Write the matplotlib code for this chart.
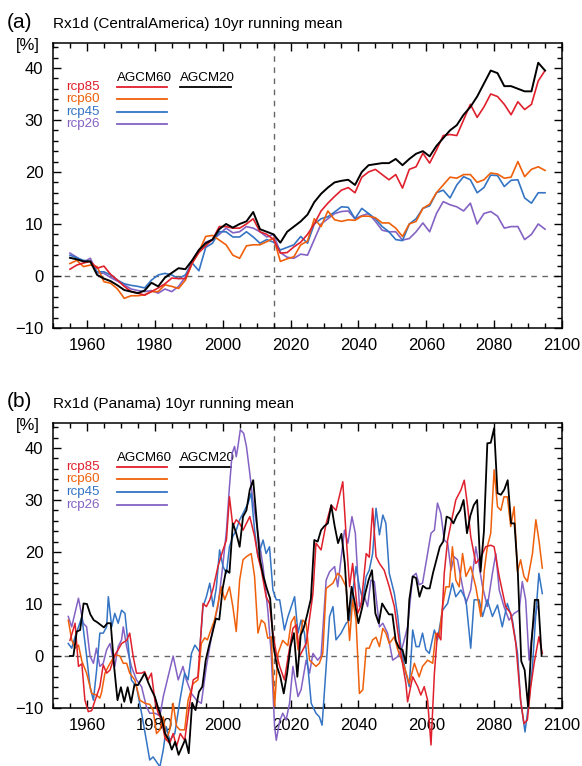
import numpy as np
import matplotlib
matplotlib.use('Agg')
import matplotlib.pyplot as plt
from matplotlib.ticker import MultipleLocator

plt.rcParams['font.family'] = ['Liberation Sans', 'DejaVu Sans']

# colours of the four scenarios
c85 = '#e0202c'
c60 = '#f0600a'
c45 = '#3474c4'
c26 = '#8462c4'

# ---- (a) Central America, every 2nd year ----
yrs_a = list(range(1955, 2096, 2))

a_agcm20 = [3.5, 3.2, 2.8,
            2.8, 0.2, -0.5, -1.0, -1.8,
            -2.7, -3.0, -3.3, -2.8, -1.3,
            -2.0, -0.3, 0.6, 1.5, 1.3,
            3.0, 5.0, 6.3, 7.0, 9.0,
            10.0, 9.3, 10.0, 10.5, 12.3,
            9.0, 8.5, 8.0, 6.4, 8.5,
            9.5, 10.5, 11.8, 14.2, 15.8,
            17.0, 18.0, 18.3, 18.5, 17.5,
            20.0, 21.3, 21.5, 21.7, 21.7,
            22.5, 21.3, 22.5, 23.5, 24.0,
            23.0, 25.0, 26.5, 28.0, 29.0,
            31.0, 32.5, 34.5, 37.0, 39.5,
            39.0, 36.5, 36.5, 36.0, 35.5,
            35.5, 41.0, 39.5]

a_rcp85 = [1.3, 2.1, 2.5,
           2.8, 1.5, 1.9, 0.3, -0.8,
           -2.0, -3.0, -3.3, -3.7, -3.0,
           -2.3, -1.5, -0.4, -0.5, -0.5,
           2.5, 4.5, 5.8, 7.0, 9.5,
           9.5, 9.2, 9.2, 10.0, 11.0,
           8.5, 8.0, 7.0, 4.4, 4.5,
           5.6, 6.5, 8.0, 10.0, 12.5,
           14.0, 15.3, 16.5, 17.0, 16.0,
           19.0, 20.0, 20.5, 19.5, 18.5,
           19.5, 16.9, 20.5, 21.0, 23.6,
           21.7, 24.2, 27.0, 27.2, 27.0,
           30.0, 33.0, 30.5, 32.5, 35.0,
           34.5, 33.0, 31.0, 33.5, 32.0,
           33.0, 37.5, 39.5]

a_rcp60 = [2.4, 3.0, 1.8,
           2.1, 1.8, -1.1, -1.4, -2.5,
           -4.3, -3.8, -3.8, -3.6, -3.0,
           -3.0, -1.7, -2.0, -2.4, -0.8,
           2.4, 4.7, 7.6, 7.8, 6.9,
           6.0, 4.0, 3.4, 5.8, 6.0,
           6.0, 6.6, 7.3, 2.8, 3.3,
           3.7, 6.0, 6.7, 11.0, 9.5,
           12.5, 10.8, 10.5, 10.8, 10.7,
           11.5, 11.5, 11.2, 10.2, 10.2,
           9.2, 7.6, 10.0, 10.5, 13.0,
           13.8, 16.0, 17.5, 19.0, 18.8,
           19.5, 19.5, 18.0, 18.5, 19.8,
           19.6, 18.8, 19.0, 22.0, 19.1,
           20.5, 21.0, 20.3]

a_rcp45 = [4.0, 3.5, 3.0,
           2.8, 0.8, 0.8, 0.2, -0.8,
           -1.5, -1.8, -2.0, -2.3, -0.8,
           0.2, 0.5, 0.2, -0.5, 0.2,
           2.5, 1.0, 5.5, 6.3, 8.5,
           8.5, 7.5, 7.5, 8.5, 7.5,
           6.3, 7.0, 6.5, 5.0, 5.5,
           6.0, 7.6, 6.3, 10.0, 11.0,
           11.4, 12.3, 13.3, 13.2, 11.0,
           13.0, 12.0, 11.0, 9.5, 8.5,
           7.0, 6.8, 10.0, 11.0, 13.0,
           13.5, 16.0, 16.5, 15.0, 17.5,
           19.1, 18.5, 16.0, 17.0, 19.4,
           19.3, 17.2, 18.4, 18.5, 15.0,
           14.0, 16.0, 16.0]

a_rcp26 = [4.4, 3.6, 2.7,
           3.4, 0.6, 0.5, -0.3, -1.0,
           -1.7, -2.5, -2.8, -3.0, -2.8,
           -3.3, -2.5, -3.0, -2.0, -0.2,
           3.0, 5.0, 6.5, 7.0, 8.0,
           9.2, 8.3, 8.5, 9.5, 9.2,
           8.5, 7.5, 8.0, 4.5, 3.6,
           3.4, 4.2, 4.0, 7.0, 10.0,
           11.0, 12.0, 12.4, 12.5, 11.0,
           11.6, 12.0, 10.5, 8.8, 8.5,
           8.5, 6.9, 7.2, 8.5, 10.2,
           8.5, 12.0, 14.3, 13.7, 13.3,
           12.5, 14.0, 10.0, 12.0, 12.4,
           11.5, 9.2, 9.5, 9.5, 7.0,
           8.0, 10.0, 9.0]

# ---- (b) Panama, read at the line's vertices ----
b_agcm20_yr = list(range(1955, 2095))
b_agcm20 = [0.0, 0.0, 4.7, 5.0, 10.1,
            10.0, 8.0, 6.9, 6.5, 6.0, 5.5, 6.3, 6.3, -2.0, -8.5,
            -6.0, -8.8, -6.0, -9.0, -5.5, -5.6, -4.5, -3.3, -5.0, -6.5,
            -7.8, -10.0, -12.0, -14.9, -16.0, -18.0, -16.5, -19.0, -17.5, -16.0,
            -18.7, -9.0, -10.4, -6.9, -5.9, -0.8, 2.0, 4.5, 7.2, 7.0,
            13.0, 16.5, 16.0, 25.5, 23.6, 21.0, 26.8, 28.0, 32.0, 33.8,
            26.2, 18.5, 15.3, 13.0, 11.0, 1.8, -2.0, -4.0, -7.2, -3.3,
            1.8, 4.4, -4.0, 4.0, 5.6, 8.2, 11.0, 22.3, 22.0, 24.2,
            25.0, 25.5, 29.0, 25.0, 21.7, 23.5, 17.8, 6.9, 13.3, 10.0,
            6.3, 9.0, 12.0, 14.6, 16.5, 8.2, 6.3, 10.1, 9.0, 8.0,
            8.0, 3.0, 1.5, 1.2, -1.4, 10.8, 15.3, 15.0, 11.4, 13.5,
            13.0, 13.0, 16.0, 18.5, 21.0, 22.0, 26.8, 26.5, 25.5, 27.0,
            28.0, 30.0, 23.6, 27.0, 29.0, 30.0, 16.2, 24.0, 40.9, 41.0,
            43.8, 31.3, 31.0, 32.0, 33.8, 25.5, 25.5, 15.9, -1.0, -2.7,
            -9.7, 2.4, 10.8, 10.8, 0.0]

b_rcp85_yr = [1955, 1956.5, 1957.5, 1958.5, 1959.4, 1960.4, 1961.4, 1962.4, 1963.8, 1964.8,
              1965.8, 1966.8, 1968.2, 1969.2, 1970.2, 1971.7, 1972.6, 1973.6, 1974.6, 1976.1,
              1977, 1978, 1979, 1980, 1981, 1982, 1983, 1984.4, 1985.4, 1986.4,
              1987.5, 1988.8, 1990.3, 1991.3, 1992.7, 1994.2, 1995.2, 1996.2, 1997.2, 1998.6,
              2000.1, 2001.1, 2002, 2003, 2004, 2005, 2006, 2007, 2008, 2009.4,
              2010.4, 2011.4, 2012.8, 2013.8, 2014.8, 2015.8, 2016.8, 2018.2, 2019.2, 2020.7,
              2021.7, 2022.7, 2024.6, 2026.6, 2027.5, 2029, 2030.5, 2032, 2033.4, 2035.4,
              2036.4, 2037.4, 2038.3, 2039.8, 2040.8, 2042.3, 2043.2, 2044.2, 2045.2, 2046.2,
              2047.6, 2049.1, 2050.6, 2052.5, 2054, 2054.5, 2056, 2057.5, 2058.4, 2059.4,
              2060.4, 2061.4, 2062.4, 2063.3, 2064.3, 2065.3, 2066.3, 2067.7, 2068.7, 2070.2,
              2071.2, 2072.2, 2073.1, 2074.6, 2076.1, 2077.5, 2079, 2080, 2081.5, 2083.4,
              2084.9, 2086.4, 2087.8, 2088.8, 2089.8, 2090.8, 2091.8, 2093.2, 2094.2]
b_rcp85 = [3.0, 6.3, -2.0, -1.5, -8.5, -10.7, -10.5, -8.5, -5.9, -1.7,
           -3.3, -2.7, 0.2, 1.2, 2.4, 3.0, 4.4, 0.0, -3.3, -3.3,
           -3.0, -4.6, -3.3, -8.5, -11.0, -12.3, -15.8, -16.8, -14.9, -17.4,
           -14.9, -16.2, -9.1, -4.6, -4.0, 10.1, 9.5, 10.8, 13.0, 17.2,
           20.4, 22.3, 30.6, 24.9, 26.2, 25.5, 24.2, 25.5, 26.8, 23.0,
           19.1, 16.5, 11.4, 10.1, 4.4, 0.5, -2.0, -4.6, -0.5, 5.3,
           6.0, 0.0, 2.4, 12.0, 21.7, 20.4, 25.5, 29.0, 28.0, 33.5,
           23.0, 13.3, 17.8, 8.2, 9.8, 19.7, 19.0, 28.4, 19.1, 17.8,
           16.5, 13.3, 9.5, 0.5, -5.3, -8.8, -4.0, -5.9, -7.5, -5.9,
           -8.5, -17.1, -3.3, 4.4, 3.1, 15.9, 22.3, 26.8, 30.0, 31.9,
           33.8, 28.7, 23.0, 17.8, 19.0, 21.0, 21.3, 21.0, 15.3, 9.5,
           8.2, 2.4, -8.5, -13.0, -12.3, -5.9, -1.4, 3.7, 0.5]

b_rcp60_yr = [1954.5, 1955.5, 1956.5, 1957.5, 1958.5, 1959.9, 1961.4, 1962.8, 1963.8, 1964.3,
              1965.3, 1966.3, 1967.7, 1968.7, 1969.7, 1970.7, 1971.7, 1972.6, 1974.1, 1975.6,
              1977.1, 1978.5, 1979.5, 1980.5, 1981.5, 1982.5, 1983.4, 1984.4, 1985.4, 1986.4,
              1987.4, 1988.8, 1989.8, 1991.3, 1992.7, 1993.7, 1994.7, 1995.5, 1996.2, 1997.6,
              1998.6, 1999.6, 2000.6, 2002, 2003, 2004, 2005, 2006, 2007, 2008.4,
              2009.4, 2010.4, 2011.4, 2012.4, 2013.3, 2014.3, 2015.3, 2016.3, 2017.7, 2019.2,
              2020.2, 2021.2, 2022.2, 2023.6, 2024.6, 2025.6, 2027.5, 2028.5, 2029.5, 2030.5,
              2032.5, 2033.9, 2034.9, 2036.4, 2037.4, 2038.3, 2039.3, 2040.3, 2041.3, 2042.3,
              2043.2, 2044.2, 2045.2, 2046.2, 2047.2, 2048.1, 2049.1, 2050.6, 2051.6, 2053.5,
              2055, 2056.5, 2057.9, 2058.9, 2060.4, 2061.9, 2062.8, 2063.8, 2064.8, 2065.8,
              2066.8, 2067.7, 2068.7, 2069.7, 2070.7, 2071.7, 2073.1, 2074.6, 2076.1, 2077.1,
              2078, 2079, 2080, 2081, 2082, 2082.9, 2083.9, 2084.9, 2085.9, 2086.9,
              2087.8, 2088.8, 2089.8, 2091.3, 2092.3, 2093.2, 2094.2]
b_rcp60 = [6.9, 3.1, 1.5, 2.1, -1.0, -3.3, -7.2, -7.5, -8.1, -7.0,
           -3.3, -2.0, -0.4, 0.2, 0.0, -1.4, -1.4, -3.3, -4.6, -8.5,
           -9.1, -9.3, -10.4, -14.9, -14.2, -11.7, -16.2, -14.2, -9.1, -13.5,
           -14.2, -14.2, -8.5, -5.3, -4.6, 2.4, 3.5, 3.1, 4.4, 6.9,
           10.0, 13.3, 10.8, 13.3, 9.5, 4.7, 14.6, 18.5, 19.1, 19.7,
           15.3, 4.4, 6.9, 6.3, 3.4, 3.7, -9.7, 0.5, 3.0, 2.0,
           6.5, 7.6, 1.2, 6.9, 6.3, -0.8, -2.0, -1.4, 0.5, 13.0,
           14.0, 15.9, 15.3, 13.3, 3.0, 10.8, 6.9, -7.2, -6.5, 1.5,
           1.5, 3.1, 3.6, 1.8, 5.3, 4.4, 2.4, 3.7, 1.2, -2.0,
           -5.3, -1.4, -4.0, -2.0, -0.8, -1.4, 4.4, 3.7, 9.5, 13.3,
           13.3, 21.0, 14.6, 13.3, 19.7, 15.3, 17.2, 13.3, 7.6, 16.5,
           21.0, 23.6, 35.8, 28.7, 28.0, 30.6, 30.6, 24.9, 28.7, 16.2,
           18.5, 15.3, 14.3, 19.7, 26.2, 22.3, 16.9]

b_rcp45_yr = [1954.5, 1955.5, 1956.5, 1957.5, 1958.5, 1959.9, 1960.9, 1961.9, 1962.8, 1963.8,
              1964.8, 1965.8, 1966.3, 1967.3, 1968.2, 1969.2, 1970.2, 1971.2, 1972.2, 1973.1,
              1974.6, 1976.1, 1977.5, 1978.5, 1979.5, 1981.5, 1982.5, 1983.4, 1984.4, 1985.9,
              1987.4, 1988.8, 1989.8, 1990.8, 1991.8, 1993.2, 1994.2, 1995.2, 1996.2, 1997.2,
              1998.1, 1999.1, 2000.1, 2001.1, 2002, 2003, 2004, 2005, 2006, 2007.5,
              2008.4, 2009.4, 2010.4, 2011.9, 2012.8, 2013.8, 2014.8, 2015.8, 2016.8, 2018.2,
              2019.2, 2021.2, 2022.2, 2023.1, 2024.1, 2025.1, 2026.1, 2027.5, 2028.5, 2029.3,
              2030.5, 2031.5, 2032.5, 2033.4, 2034.9, 2036.4, 2037.4, 2038.3, 2039.3, 2040.3,
              2041.3, 2042.3, 2043.2, 2044.2, 2045.2, 2046.2, 2047.2, 2048.1, 2049.1, 2050.6,
              2051.6, 2052.5, 2054, 2055, 2056, 2057, 2057.9, 2058.9, 2059.9, 2060.9,
              2062.4, 2063.3, 2064.8, 2066.3, 2067.7, 2068.7, 2070.2, 2071.7, 2073.1, 2074.1,
              2075.6, 2076.6, 2078, 2079.5, 2081, 2082.4, 2083.9, 2085.4, 2086.9, 2087.8,
              2089.1, 2090.3, 2091.3, 2092.3, 2093.2, 2094.2]
b_rcp45 = [2.4, 1.5, 3.7, 5.6, 7.5, 0.0, -5.9, -8.5, -3.0, 4.4,
           4.4, 5.6, 11.4, 5.6, 8.2, 6.3, 8.8, 8.2, 1.8, -4.6,
           -5.9, -11.0, -16.2, -20.0, -19.4, -21.3, -18.0, -13.6, -16.2, -14.9,
           -8.5, -3.3, -4.6, 0.5, 2.1, 0.8, 9.5, 11.4, 14.0, 9.5,
           13.0, 20.4, 17.2, 15.9, 21.0, 23.0, 24.2, 26.2, 27.4, 29.4,
           31.3, 24.2, 19.1, 22.3, 19.7, 21.0, 12.7, 10.8, 10.8, 5.0,
           7.5, 11.4, 4.4, 6.9, 4.4, -2.0, -9.1, -11.0, -11.7, -13.3,
           -2.0, 7.6, 9.5, 3.1, 4.4, 6.3, 6.9, 12.0, 17.2, 13.3,
           10.8, 15.3, 16.5, 19.7, 28.4, 23.3, 27.1, 25.5, 15.9, 12.0,
           7.6, 1.8, -3.3, -5.9, 5.0, 1.8, 1.8, 4.4, 1.2, 0.5,
           5.0, 3.1, 8.8, 10.1, 14.0, 11.4, 12.7, 10.8, 1.5, 10.8,
           10.8, 7.6, 10.8, 7.6, 9.8, 5.6, 10.1, 6.9, 0.5, -8.5,
           -14.6, -8.5, -2.0, 8.2, 15.9, 12.0]

b_rcp26_yr = [1954.5, 1955.5, 1957.5, 1958.9, 1959.9, 1960.9, 1961.9, 1962.8, 1963.8, 1964.8,
              1965.8, 1966.8, 1968.2, 1969.2, 1970.2, 1970.7, 1971.7, 1973.1, 1974.6, 1976.1,
              1977.5, 1978.5, 1980, 1981.5, 1982.5, 1983.9, 1985.4, 1986.9, 1988.3, 1989.3,
              1990.8, 1992.3, 1993.7, 1995.2, 1997.2, 1998.6, 2000, 2001.1, 2002, 2002.8,
              2003.5, 2004, 2004.5, 2005.2, 2006.2, 2007, 2008, 2008.9, 2010.4, 2011.9,
              2013.3, 2014.3, 2015.3, 2015.8, 2016.8, 2017.7, 2018.7, 2019.7, 2020.7, 2022.2,
              2023.1, 2024.6, 2025.6, 2026.6, 2028, 2029, 2030.5, 2031.5, 2033, 2033.9,
              2035.9, 2036.9, 2038.1, 2039.1, 2040.3, 2041.8, 2042.7, 2043.7, 2044.7, 2046.2,
              2047.2, 2048.6, 2050.1, 2051.6, 2053, 2054.5, 2056, 2057, 2057.9, 2058.9,
              2059.9, 2061.4, 2062.4, 2063.3, 2064.3, 2065.3, 2066.3, 2067.3, 2068.2, 2069.2,
              2070.7, 2071.7, 2073.1, 2074.6, 2075.6, 2076.6, 2078, 2079.5, 2080.5, 2081.5,
              2082.9, 2084.4, 2085.9, 2087.4, 2088.3, 2089.3, 2090.3, 2091.3, 2092.7]
b_rcp26 = [7.6, 5.6, 11.1, 6.3, 5.6, 0.0, -1.4, 1.5, -2.0, -1.4,
           1.2, 2.4, -2.0, 1.8, 3.1, 5.6, 1.8, -2.0, -4.6, -5.9,
           -9.7, -11.0, -11.0, -11.5, -7.8, -4.0, 0.0, -4.6, -2.0, -4.6,
           -7.2, -8.5, -9.1, -2.0, 5.6, 9.5, 17.2, 24.0, 32.6, 39.0,
           40.3, 38.3, 40.3, 43.5, 42.8, 40.3, 35.1, 30.0, 23.6, 17.2,
           8.8, 0.5, -13.6, -16.2, -12.5, -11.0, -12.3, -9.1, -2.0, -7.8,
           -6.5, -0.8, -3.3, 0.5, -0.8, 0.0, 14.6, 16.2, 17.2, 13.3,
           24.2, 21.7, 26.8, 23.6, 9.5, 11.4, 9.5, 14.6, 14.3, 5.6,
           6.3, 4.4, -0.8, -0.1, 1.8, 5.6, 15.3, 15.9, 13.7, 14.0,
           17.8, 23.6, 24.2, 29.4, 27.4, 22.3, 21.7, 16.5, 19.1, 18.5,
           13.3, 10.1, 12.7, 21.0, 17.2, 13.3, 9.5, 15.9, 19.7, 12.7,
           9.5, 6.9, 8.2, 8.8, 14.3, 10.8, -0.8, 5.0, 9.5]

leg_names = ['rcp85', 'rcp60', 'rcp45', 'rcp26']
leg_cols = [c85, c60, c45, c26]


def style_axes(ax):
    ax.set_xlim(1950, 2100)
    ax.set_ylim(-10, 44.8)
    ax.xaxis.set_major_locator(MultipleLocator(20))
    ax.xaxis.set_minor_locator(MultipleLocator(5))
    ax.yaxis.set_major_locator(MultipleLocator(10))
    ax.yaxis.set_minor_locator(MultipleLocator(2))
    ax.set_yticks([-10, 0, 10, 20, 30, 40])
    ax.tick_params(which='both', direction='in', top=True, right=True, width=1.0)
    ax.tick_params(which='major', length=6, labelsize=12, pad=7)
    ax.tick_params(which='minor', length=3.5)
    for s in ax.spines.values():
        s.set_linewidth(1.1)
    ax.axhline(0, color='#666666', lw=1.0, ls=(0, (4, 4)), zorder=1)
    ax.axvline(2015, color='#666666', lw=1.0, ls=(0, (4, 4)), zorder=1)
    # legend block
    ax.text(0.126, 0.868, 'AGCM60', transform=ax.transAxes, fontsize=9.6, va='baseline')
    ax.text(0.2495, 0.868, 'AGCM20', transform=ax.transAxes, fontsize=9.6, va='baseline')
    ax.plot([0.2495, 0.35], [0.846, 0.846], color='black', lw=1.3, transform=ax.transAxes)
    for i, (nm, col) in enumerate(zip(leg_names, leg_cols)):
        yy = 0.846 - i * 0.044
        ax.text(0.091, yy, nm, color=col, transform=ax.transAxes, fontsize=9.6,
                ha='right', va='center')
        ax.plot([0.126, 0.224], [yy, yy], color=col, lw=1.3, transform=ax.transAxes)


fig = plt.figure(figsize=(5.82, 7.66), dpi=100)
ax1 = fig.add_axes([0.0911, 0.5718, 0.8745, 0.3721])
ax2 = fig.add_axes([0.0911, 0.0757, 0.8745, 0.3721])

style_axes(ax1)
ax1.plot(yrs_a, a_rcp26, color=c26, lw=1.2)
ax1.plot(yrs_a, a_rcp45, color=c45, lw=1.2)
ax1.plot(yrs_a, a_rcp60, color=c60, lw=1.2)
ax1.plot(yrs_a, a_rcp85, color=c85, lw=1.2)
ax1.plot(yrs_a, a_agcm20, color='black', lw=1.4)

style_axes(ax2)
# in (b) the curves run past the bottom of the frame
ax2.plot(b_rcp26_yr, b_rcp26, color=c26, lw=1.1, clip_on=False, zorder=3)
ax2.plot(b_rcp45_yr, b_rcp45, color=c45, lw=1.1, clip_on=False, zorder=3)
ax2.plot(b_rcp60_yr, b_rcp60, color=c60, lw=1.1, clip_on=False, zorder=3)
ax2.plot(b_rcp85_yr, b_rcp85, color=c85, lw=1.1, clip_on=False, zorder=3)
ax2.plot(b_agcm20_yr, b_agcm20, color='black', lw=1.3, clip_on=False, zorder=3)

# panel titles and units
fig.text(0.012, 1 - 28 / 766, '(a)', fontsize=15, va='baseline')
fig.text(0.0911, 1 - 28 / 766, 'Rx1d (CentralAmerica) 10yr running mean', fontsize=11.1, va='baseline')
fig.text(0.069, 1 - 50 / 766, '[%]', fontsize=12, ha='right', va='baseline')
fig.text(0.012, 1 - 407 / 766, '(b)', fontsize=15, va='baseline')
fig.text(0.0911, 1 - 408 / 766, 'Rx1d (Panama) 10yr running mean', fontsize=11.1, va='baseline')
fig.text(0.069, 1 - 430 / 766, '[%]', fontsize=12, ha='right', va='baseline')

plt.savefig('out.png', dpi=100)
plt.close()
